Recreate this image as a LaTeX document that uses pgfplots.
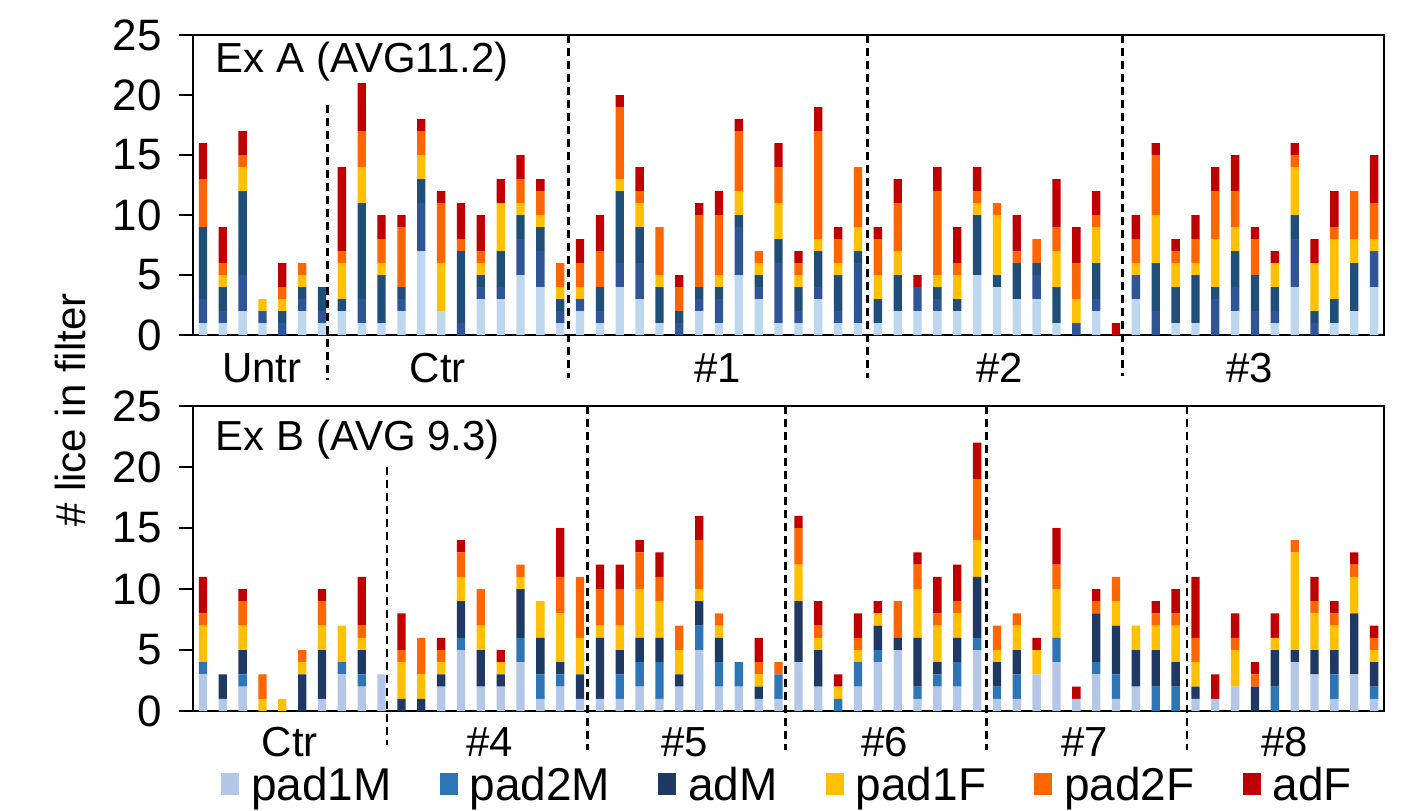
\documentclass[border=0pt]{standalone}
\usepackage{fontspec}
\setmainfont{Liberation Sans}
\usepackage{pgfplots}
\usepackage{pgfplotstable}
\pgfplotsset{compat=1.18}

% top panel colours
\definecolor{ta}{HTML}{BDD7EE}
\definecolor{tb}{HTML}{2F5597}
\definecolor{tc}{HTML}{1F4E79}
% bottom panel colours
\definecolor{ba}{HTML}{B4C7E7}
\definecolor{bb}{HTML}{2E75B6}
\definecolor{bc}{HTML}{203864}
\definecolor{cy}{HTML}{FFC000}
\definecolor{co}{HTML}{FF6600}
\definecolor{cr}{HTML}{C00000}

% columns: bar, pad1M, pad2M, adM, pad1F, pad2F, adF
\pgfplotstableread{
i a b c d e f
1 1 2 6 0 4 3
2 1 1 2 1 1 3
3 2 3 7 2 1 2
4 1 1 0 1 0 0
5 0 1 1 1 1 2
6 2 1 1 1 1 0
7 1 1 2 0 0 0
8 2 0 1 3 1 7
9 1 2 8 3 3 4
10 1 0 4 1 2 2
11 2 1 1 0 5 1
12 7 4 2 2 2 1
13 2 0 0 4 5 1
14 0 1 6 0 1 3
15 3 1 1 1 1 3
16 3 1 3 4 0 2
17 5 3 2 1 2 2
18 4 3 2 1 2 1
19 1 1 1 1 2 0
20 2 1 0 1 2 2
21 1 1 2 0 3 3
22 4 2 6 1 6 1
23 3 3 3 2 1 2
24 1 0 3 1 4 0
25 0 1 1 0 2 1
26 2 1 1 0 6 1
27 1 2 1 1 5 2
28 5 4 1 2 5 1
29 3 1 1 1 1 0
30 1 5 2 3 3 2
31 1 1 2 1 1 1
32 3 1 3 1 9 2
33 1 1 3 1 2 1
34 1 5 1 2 5 0
35 1 0 2 2 3 1
36 2 0 3 2 4 2
37 2 2 0 0 0 1
38 2 1 1 1 7 2
39 2 0 1 2 1 3
40 5 0 5 1 1 2
41 4 0 1 5 1 0
42 3 0 3 0 1 3
43 3 2 1 0 2 0
44 1 0 3 3 2 4
45 0 1 0 2 3 3
46 2 1 3 3 1 2
47 0 0 0 0 0 1
48 3 2 0 1 2 2
49 0 2 4 4 5 1
50 1 0 3 2 1 1
51 1 0 4 1 2 2
52 0 3 1 4 4 2
53 2 2 3 2 3 3
54 0 2 3 0 3 1
55 1 1 2 2 0 1
56 4 4 2 4 1 1
57 0 1 1 4 0 2
58 1 0 2 5 1 3
59 2 0 4 2 4 0
60 4 3 0 1 3 4
}\topdata

\pgfplotstableread{
i a b c d e f
1 3 1 0 3 1 3
2 1 0 2 0 0 0
3 2 1 2 2 2 1
4 0 0 0 1 2 0
5 0 0 0 1 0 0
6 0 0 3 1 1 0
7 1 0 4 2 2 1
8 3 1 0 3 0 0
9 2 1 2 1 1 4
10 3 0 0 0 0 0
11 0 0 1 3 1 3
12 0 0 1 2 3 0
13 2 0 1 1 1 1
14 5 1 3 2 2 1
15 2 0 3 2 3 0
16 2 0 1 1 0 1
17 4 2 4 1 1 0
18 1 2 3 3 0 0
19 2 1 1 4 3 4
20 1 0 2 3 5 0
21 1 0 5 1 3 2
22 1 2 2 2 3 2
23 2 2 2 4 3 1
24 1 3 2 3 2 2
25 2 0 1 2 2 0
26 5 2 2 1 4 2
27 2 2 2 1 1 0
28 2 2 0 0 0 0
29 1 0 1 1 1 2
30 1 2 0 0 1 0
31 4 0 5 3 3 1
32 2 0 3 1 1 2
33 0 1 0 1 0 1
34 2 2 0 1 1 2
35 4 1 2 1 0 1
36 5 0 1 0 3 0
37 1 1 4 4 2 1
38 2 1 1 3 1 3
39 2 2 2 2 1 3
40 5 1 5 3 5 3
41 1 1 2 1 2 0
42 1 2 2 2 1 0
43 3 0 0 2 0 1
44 4 2 0 4 2 3
45 1 0 0 0 0 1
46 3 1 4 0 1 1
47 1 2 4 2 2 0
48 2 0 3 2 0 0
49 0 2 3 2 1 1
50 0 2 2 3 1 2
51 1 0 1 2 2 5
52 1 0 0 0 0 2
53 2 0 0 3 1 2
54 0 0 2 0 1 1
55 0 2 3 1 0 2
56 4 0 1 8 1 0
57 3 0 2 3 1 2
58 1 2 2 2 1 1
59 3 0 5 3 1 1
60 1 1 2 1 1 1
}\botdata

\pgfplotsset{
  panel/.style={
    scale only axis, width=595.5pt,
    ybar stacked, bar width=0.42,
    xmin=0.5, xmax=60.5, ymin=0, ymax=25,
    ytick={0,5,...,25}, xtick=\empty,
    ytick pos=left, tick align=outside, major tick length=7pt,
    axis line style={line width=0.8pt},
    every tick/.style={black, line width=0.8pt},
    /pgf/number format/assume math mode=true,
    yticklabel style={font=\fontsize{22}{26}\selectfont, xshift=-5pt},
    clip=false,
  },
  sep/.style={black, line width=1.3pt, dash pattern=on 4pt off 2.5pt, forget plot, sharp plot},
}
\tikzset{lab/.style={font=\fontsize{21}{25}\selectfont}}

\begin{document}
\begin{tikzpicture}
\useasboundingbox (-96.5pt,-237.5pt) rectangle (606.5pt,167.5pt);

\begin{axis}[panel, name=top, at={(0,0)}, anchor=south west, height=150pt]
\addplot[fill=ta, draw=none] table[x=i,y=a]{\topdata};
\addplot[fill=tb, draw=none] table[x=i,y=b]{\topdata};
\addplot[fill=tc, draw=none] table[x=i,y=c]{\topdata};
\addplot[fill=cy, draw=none] table[x=i,y=d]{\topdata};
\addplot[fill=co, draw=none] table[x=i,y=e]{\topdata};
\addplot[fill=cr, draw=none] table[x=i,y=f]{\topdata};
\end{axis}

\begin{axis}[panel, at={(0,0)}, anchor=south west, height=150pt,
  axis lines=none, ybar=0pt, stack plots=false]
\addplot[sep] coordinates {(7.27,19.2) (7.27,-3.75)};
\addplot[sep] coordinates {(19.43,25) (19.43,-3.6)};
\addplot[sep] coordinates {(34.49,25) (34.49,-3.6)};
\addplot[sep] coordinates {(47.34,25) (47.34,-3.4)};
\node[lab, anchor=west] at (axis cs:1.3,22.75) {Ex A (AVG11.2)};
\node[lab] at (axis cs:3.96,-2.75) {Untr};
\node[lab] at (axis cs:12.83,-2.75) {Ctr};
\node[lab] at (axis cs:26.93,-2.75) {\#1};
\node[lab] at (axis cs:41.14,-2.75) {\#2};
\node[lab] at (axis cs:53.73,-2.75) {\#3};
\end{axis}

\begin{axis}[panel, name=bot, at={(0,-188pt)}, anchor=south west, height=152.5pt,
  legend style={at={(0.5,-0.243)}, anchor=center, draw=none, fill=none,
    font=\fontsize{23}{27}\selectfont, legend columns=6,
    /tikz/every even column/.append style={column sep=22pt}},
  legend image code/.code={\fill[#1] (0pt,-5pt) rectangle (9pt,6pt); \path (13pt,0pt);}]
\addplot[fill=ba, draw=none] table[x=i,y=a]{\botdata};
\addplot[fill=bb, draw=none] table[x=i,y=b]{\botdata};
\addplot[fill=bc, draw=none] table[x=i,y=c]{\botdata};
\addplot[fill=cy, draw=none] table[x=i,y=d]{\botdata};
\addplot[fill=co, draw=none] table[x=i,y=e]{\botdata};
\addplot[fill=cr, draw=none] table[x=i,y=f]{\botdata};
\legend{pad1M, pad2M, adM, pad1F, pad2F, adF}
\end{axis}

\begin{axis}[panel, at={(0,-188pt)}, anchor=south west, height=152.5pt,
  axis lines=none, ybar=0pt, stack plots=false]
\addplot[sep] coordinates {(10.27,20) (10.27,-2.8)};
\addplot[sep] coordinates {(20.37,25) (20.37,-3.2)};
\addplot[sep] coordinates {(30.36,25) (30.36,-3.2)};
\addplot[sep] coordinates {(40.47,25) (40.47,-3.2)};
\addplot[sep] coordinates {(50.58,25) (50.58,-3.2)};
\node[lab, anchor=west] at (axis cs:1.3,22.27) {Ex B (AVG 9.3)};
\node[lab] at (axis cs:5.37,-2.55) {Ctr};
\node[lab] at (axis cs:15.45,-2.55) {\#4};
\node[lab] at (axis cs:25.27,-2.55) {\#5};
\node[lab] at (axis cs:35.35,-2.55) {\#6};
\node[lab] at (axis cs:45.43,-2.55) {\#7};
\node[lab] at (axis cs:55.5,-2.55) {\#8};
\end{axis}

\node[lab, rotate=90] at (-61.5pt,-37.5pt) {\# lice in filter};
\end{tikzpicture}
\end{document}
